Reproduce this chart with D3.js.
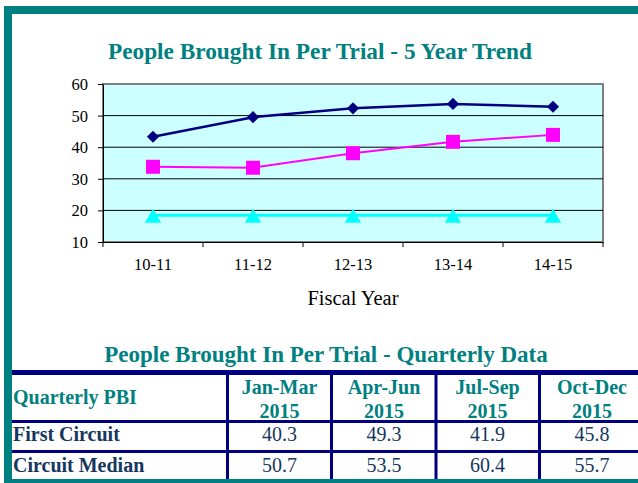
<!DOCTYPE html>
<html>
<head>
<meta charset="utf-8">
<script src="https://cdn.jsdelivr.net/npm/d3@7"></script>
<style>
  html, body { margin: 0; padding: 0; background: #ffffff; }
  svg { display: block; }
  svg text { font-family: "Liberation Serif", "Times New Roman", serif; }
</style>
</head>
<body>
<script>
// ---------- data ----------
const years = ["10-11", "11-12", "12-13", "13-14", "14-15"];
const seriesNavy = [43.3, 49.5, 52.3, 53.7, 52.8];
const seriesMagenta = [33.8, 33.5, 38.1, 41.7, 43.9];
const seriesCyan = [18.5, 18.5, 18.5, 18.5, 18.5];
const yTicks = [10, 20, 30, 40, 50, 60];

const chartTitle = "People Brought In Per Trial - 5 Year Trend";
const xAxisTitle = "Fiscal Year";
const tableTitle = "People Brought In Per Trial - Quarterly Data";
const cornerLabel = "Quarterly PBI";
const quarters = ["Jan-Mar", "Apr-Jun", "Jul-Sep", "Oct-Dec"];
const quarterYear = "2015";
const rowLabels = ["First Circuit", "Circuit Median"];
const firstCircuit = [40.3, 49.3, 41.9, 45.8];
const circuitMedian = [50.7, 53.5, 60.4, 55.7];

// ---------- setup ----------
const W = 638, H = 483;
const FONT = "'Liberation Serif', 'Times New Roman', serif";
const teal = "#008080", navy = "#000080", textNavy = "#17375e";
const svg = d3.select("body").append("svg").attr("width", W).attr("height", H);

// outer teal frame (top, left, bottom)
svg.append("rect").attr("x", 4).attr("y", 6).attr("width", W - 4).attr("height", 8).attr("fill", teal);
svg.append("rect").attr("x", 4).attr("y", 6).attr("width", 8).attr("height", H - 6).attr("fill", teal);
svg.append("rect").attr("x", 4).attr("y", 479).attr("width", W - 4).attr("height", 4).attr("fill", teal);

// ---------- chart ----------
const plot = { left: 103, right: 603, top: 84, bottom: 242 };
const x = d3.scaleBand().domain(years).range([plot.left, plot.right]);
const y = d3.scaleLinear().domain([10, 60]).range([plot.bottom, plot.top]);

svg.append("text")
  .attr("x", 320).attr("y", 58.5)
  .attr("text-anchor", "middle")
  .attr("font-family", FONT).attr("font-size", 23.3).attr("font-weight", "bold")
  .attr("fill", teal)
  .text(chartTitle);

// plot background
svg.append("rect")
  .attr("x", plot.left).attr("y", plot.top)
  .attr("width", plot.right - plot.left).attr("height", plot.bottom - plot.top)
  .attr("fill", "#ccffff").attr("stroke", "#808080").attr("stroke-width", 2);

// gridlines
svg.append("g").selectAll("line")
  .data(yTicks.filter(t => t > 10 && t < 60))
  .join("line")
  .attr("x1", plot.left).attr("x2", plot.right)
  .attr("y1", d => y(d)).attr("y2", d => y(d))
  .attr("stroke", "#000").attr("stroke-width", 1);

// y axis: ticks + domain through d3.axisLeft, labels placed via the same scale
const yAxis = svg.append("g")
  .attr("transform", `translate(${plot.left},0)`)
  .call(d3.axisLeft(y).tickValues(yTicks).tickSize(5).tickSizeOuter(0).tickFormat(""));
yAxis.select(".domain").attr("stroke", "#000");
yAxis.selectAll(".tick line").attr("stroke", "#000");
svg.append("g").selectAll("text")
  .data(yTicks)
  .join("text")
  .attr("x", plot.left - 15).attr("y", d => y(d) + 6)
  .attr("text-anchor", "end")
  .attr("font-family", FONT).attr("font-size", 16.5).attr("fill", "#000")
  .text(d => d);

// x axis: domain through d3.axisBottom; ticks at category boundaries
const xAxis = svg.append("g")
  .attr("transform", `translate(0,${plot.bottom})`)
  .call(d3.axisBottom(x).tickSize(0).tickSizeOuter(0).tickFormat(""));
xAxis.select(".domain").attr("stroke", "#000");
const boundaries = years.map(d => x(d)).concat([x.range()[1]]);
svg.append("g").selectAll("line")
  .data(boundaries)
  .join("line")
  .attr("x1", d => d).attr("x2", d => d)
  .attr("y1", plot.bottom).attr("y2", plot.bottom + 5)
  .attr("stroke", "#000").attr("stroke-width", 1);
const cx = d => x(d) + x.bandwidth() / 2;
svg.append("g").selectAll("text")
  .data(years)
  .join("text")
  .attr("x", d => cx(d)).attr("y", plot.bottom + 28)
  .attr("text-anchor", "middle")
  .attr("font-family", FONT).attr("font-size", 16.5).attr("fill", "#000")
  .text(d => d);

svg.append("text")
  .attr("x", 353).attr("y", 304.5)
  .attr("text-anchor", "middle")
  .attr("font-family", FONT).attr("font-size", 20.5)
  .attr("fill", "#000")
  .text(xAxisTitle);

function drawSeries(values, color, width, symbol, size, dyOffset, rotate) {
  const pts = years.map((yr, i) => [cx(yr), y(values[i])]);
  svg.append("path")
    .attr("d", d3.line()(pts))
    .attr("fill", "none").attr("stroke", color).attr("stroke-width", width);
  svg.append("g").selectAll("path")
    .data(pts)
    .join("path")
    .attr("d", d3.symbol().type(symbol).size(size)())
    .attr("transform", d => `translate(${d[0]},${d[1] + dyOffset}) rotate(${rotate})`)
    .attr("fill", color);
}
drawSeries(seriesCyan, "#00ffff", 3, d3.symbolTriangle, 115, 3, 0);
drawSeries(seriesMagenta, "#ff00ff", 2, d3.symbolSquare, 196, 0, 0);
drawSeries(seriesNavy, navy, 2.5, d3.symbolSquare, 74, 0, 45);

// ---------- table ----------
svg.append("text")
  .attr("x", 326).attr("y", 362)
  .attr("text-anchor", "middle")
  .attr("font-family", FONT).attr("font-size", 23).attr("font-weight", "bold")
  .attr("fill", teal)
  .text(tableTitle);

const tableLeft = 12, tableTop = 370, tableBottom = 479;
const colSeps = [227.5, 331.5, 436, 539.5];
const colCenters = [279.5, 384, 487.5, 592];
const rowSeps = [421.5, 451.5];

// top navy rule
svg.append("rect").attr("x", tableLeft).attr("y", tableTop).attr("width", W - tableLeft).attr("height", 5).attr("fill", navy);
// row rules
svg.append("g").selectAll("rect").data(rowSeps).join("rect")
  .attr("x", tableLeft).attr("y", d => d - 1.5).attr("width", W - tableLeft).attr("height", 3).attr("fill", navy);
// column rules
svg.append("g").selectAll("rect").data(colSeps).join("rect")
  .attr("x", d => d - 1.5).attr("y", tableTop).attr("width", 3).attr("height", tableBottom - tableTop).attr("fill", navy);

// header
svg.append("text")
  .attr("x", 13).attr("y", 403.5)
  .attr("font-family", FONT).attr("font-size", 20).attr("font-weight", "bold")
  .attr("fill", teal)
  .text(cornerLabel);
const hdr = svg.append("g").selectAll("text").data(quarters).join("text")
  .attr("x", (d, i) => colCenters[i])
  .attr("text-anchor", "middle")
  .attr("font-family", FONT).attr("font-size", 20).attr("font-weight", "bold")
  .attr("fill", teal);
hdr.append("tspan").attr("x", (d, i) => colCenters[i]).attr("y", 393.5).text(d => d);
hdr.append("tspan").attr("x", (d, i) => colCenters[i]).attr("y", 417.5).text(quarterYear);

// body rows
const rows = [firstCircuit, circuitMedian];
const rowBaselines = [441, 471.5];
rows.forEach((vals, r) => {
  svg.append("text")
    .attr("x", 13).attr("y", rowBaselines[r])
    .attr("font-family", FONT).attr("font-size", 20).attr("font-weight", "bold")
    .attr("fill", textNavy)
    .text(rowLabels[r]);
  svg.append("g").selectAll("text").data(vals).join("text")
    .attr("x", (d, i) => colCenters[i]).attr("y", rowBaselines[r])
    .attr("text-anchor", "middle")
    .attr("font-family", FONT).attr("font-size", 20)
    .attr("fill", textNavy)
    .text(d => d.toFixed(1));
});
</script>
</body>
</html>
